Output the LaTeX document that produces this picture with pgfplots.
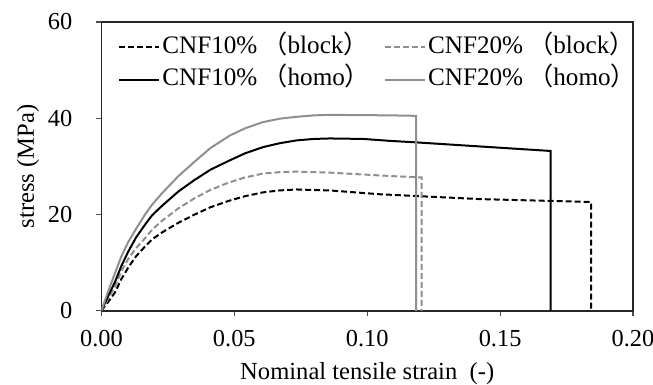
\documentclass[border=0pt]{standalone}
\usepackage{pgfplots}
\pgfplotsset{compat=1.18}
\usepackage{fontspec}
\setmainfont{Liberation Serif}
\newfontfamily\cjk{Noto Sans CJK JP}
\definecolor{lgray}{rgb}{0.56,0.56,0.56}
\begin{document}
\begin{tikzpicture}
\begin{axis}[
  name=ax,
  scale only axis,
  width=266pt, height=144.5pt,
  xmin=0, xmax=0.2, ymin=0, ymax=60,
  xtick={0,0.05,0.1,0.15,0.2},
  ytick={0,20,40,60},
  tick align=outside, major tick length=2.5pt,
  xtick pos=bottom, ytick pos=left,
  axis line style={line width=0.9pt, black!85},
  tick style={line width=0.6pt, black!70},
  /pgf/number format/assume math mode=true,
  xticklabel style={/pgf/number format/fixed, /pgf/number format/fixed zerofill, /pgf/number format/precision=2, font=\fontsize{12.2}{14}\selectfont, yshift=-3.5pt},
  yticklabel style={font=\fontsize{12.2}{14}\selectfont, xshift=-8.5pt},
  scaled x ticks=false,
  xlabel={Nominal tensile strain\ \ (-)},
  ylabel={stress (MPa)},
  xlabel style={font=\fontsize{12.3}{15}\selectfont, at={(axis description cs:0.5,-0.218)}, anchor=center},
  ylabel style={font=\fontsize{12.3}{15}\selectfont, at={(axis description cs:-0.1382,0.5)}, anchor=center},
  legend columns=2,
  legend cell align=left,
  legend style={draw=none, fill=none, at={(rel axis cs:0,1)}, anchor=north west,
    inner xsep=8.25pt, inner ysep=6.5pt,
    font=\fontsize{12.6}{15}\selectfont,
    nodes={inner xsep=1pt, inner ysep=0pt, text height=9pt, text depth=3pt},
    row sep=4.25pt,
    /tikz/every even column/.append style={column sep=6pt}},
  legend image code/.code={\draw[#1] (0pt,0pt) -- (20pt,0pt);},
]
\addplot[black, line width=1pt, dash pattern=on 3pt off 1.5pt] coordinates {
(0,0) (0.0025,1.8) (0.0051,3.8) (0.0075,6.6) (0.0101,9.0) (0.013,11.3) (0.0163,13.3) (0.019,14.8) (0.0226,16.2) (0.029,18.3) (0.0351,20.0) (0.041,21.5) (0.0477,22.8) (0.054,23.8) (0.0608,24.6) (0.067,25.0) (0.0734,25.2) (0.0859,25.0) (0.1049,24.2) (0.1425,23.2) (0.1842,22.6) (0.1842,0)};
\addlegendentry{CNF10\%\hspace{2.5pt}{\cjk （}block{\cjk ）}}
\addplot[lgray, line width=1pt, dash pattern=on 3pt off 1.5pt] coordinates {
(0,0) (0.0025,2.5) (0.0051,5.0) (0.0075,8.2) (0.0101,10.8) (0.013,13.0) (0.0163,15.0) (0.019,16.8) (0.0226,18.6) (0.029,21.3) (0.0351,23.4) (0.041,25.1) (0.0477,26.6) (0.054,27.7) (0.0608,28.5) (0.067,28.8) (0.0734,28.9) (0.0859,28.7) (0.1085,28.0) (0.1205,27.7) (0.1205,0)};
\addlegendentry{CNF20\%\hspace{2.5pt}{\cjk （}block{\cjk ）}}
\addplot[black, line width=1pt] coordinates {
(0,0) (0.0025,3.0) (0.0051,6.0) (0.0075,9.3) (0.0101,12.3) (0.013,15.2) (0.0163,17.8) (0.019,19.8) (0.0226,21.7) (0.029,24.8) (0.0351,27.2) (0.041,29.3) (0.0477,31.1) (0.054,32.7) (0.0608,34.0) (0.067,34.8) (0.0734,35.4) (0.080,35.7) (0.0859,35.8) (0.0985,35.7) (0.1085,35.3) (0.118,35.0) (0.169,33.2) (0.169,0)};
\addlegendentry{CNF10\%\hspace{2.5pt}{\cjk （}homo{\cjk ）}}
\addplot[lgray, line width=1pt] coordinates {
(0,0) (0.0025,4.0) (0.0051,7.8) (0.0075,11.3) (0.0101,14.3) (0.013,17.0) (0.0163,19.9) (0.019,22.0) (0.0226,24.3) (0.029,28.0) (0.0351,31.0) (0.041,33.8) (0.0483,36.4) (0.054,37.9) (0.0608,39.2) (0.067,39.9) (0.0734,40.3) (0.080,40.6) (0.0859,40.7) (0.1085,40.6) (0.1184,40.5) (0.1184,0)};
\addlegendentry{CNF20\%\hspace{2.5pt}{\cjk （}homo{\cjk ）}}
\end{axis}
\pgfresetboundingbox
\path ([shift={(-50.75pt,-37pt)}]ax.south west) rectangle ([shift={(10pt,11pt)}]ax.north east);
\end{tikzpicture}
\end{document}
